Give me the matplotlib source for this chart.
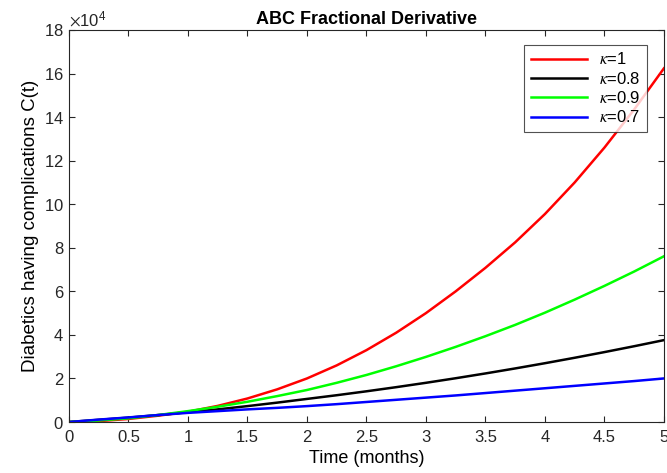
import matplotlib
matplotlib.use("Agg")
import matplotlib.pyplot as plt
from matplotlib.ticker import ScalarFormatter, FuncFormatter
import numpy as np

plt.rcParams["font.family"] = ["Liberation Sans", "DejaVu Sans"]
plt.rcParams["mathtext.fontset"] = "stix"

# time (months)
t = np.arange(0, 5.01, 0.25)

# complications C(t), in units of 1e4
c_k1 = [0, 0.04, 0.14, 0.29, 0.47, 0.74, 1.08, 1.50, 2.00, 2.60, 3.30,
        4.10, 5.00, 6.00, 7.08, 8.25, 9.55, 11.00, 12.60, 14.35, 16.24]
c_k08 = [0, 0.10, 0.20, 0.32, 0.45, 0.58, 0.73, 0.89, 1.06, 1.23, 1.41,
         1.60, 1.80, 2.01, 2.23, 2.46, 2.70, 2.95, 3.21, 3.48, 3.76]
c_k09 = [0, 0.07, 0.17, 0.32, 0.50, 0.70, 0.93, 1.19, 1.47, 1.80, 2.16,
         2.56, 2.99, 3.45, 3.94, 4.46, 5.02, 5.62, 6.25, 6.91, 7.61]
c_k07 = [0, 0.11, 0.21, 0.32, 0.42, 0.50, 0.58, 0.65, 0.73, 0.82, 0.92,
         1.02, 1.12, 1.22, 1.33, 1.44, 1.55, 1.66, 1.77, 1.88, 2.00]

series = [
    (c_k1, "#ff0000", r"$\kappa$=1"),
    (c_k08, "#000000", r"$\kappa$=0.8"),
    (c_k09, "#00ff00", r"$\kappa$=0.9"),
    (c_k07, "#0000ff", r"$\kappa$=0.7"),
]

fig = plt.figure(figsize=(6.67, 4.73), dpi=100)
ax = fig.add_axes([0.1034, 0.1078, 0.892, 0.8288])

for vals, color, label in series:
    ax.plot(t, np.array(vals) * 1e4, color=color, linewidth=1.8, label=label)

ax.set_xlim(0, 5)
ax.set_ylim(0, 18e4)
ax.set_xticks(np.arange(0, 5.01, 0.5))
ax.set_yticks(np.arange(0, 18.01, 2) * 1e4)
ax.xaxis.set_major_formatter(FuncFormatter(lambda v, p: f"{v:g}"))
fmt = ScalarFormatter(useMathText=True)
fmt.set_powerlimits((4, 4))
ax.yaxis.set_major_formatter(fmt)
ax.yaxis.get_offset_text().set_fontsize(12)

axis_color = "#262626"
for sp in ax.spines.values():
    sp.set_color(axis_color)
    sp.set_linewidth(0.8)
ax.tick_params(direction="in", top=True, right=True, labelsize=12,
               colors=axis_color, labelcolor="#262626", length=4)
ax.tick_params(axis="x", pad=6)

ax.set_title("ABC Fractional Derivative", fontsize=13, fontweight="bold", pad=4)
ax.set_xlabel("Time (months)", fontsize=13, labelpad=3)
ax.set_ylabel("Diabetics having complications C(t)", fontsize=13.5, labelpad=4)

leg = ax.legend(loc="upper right", bbox_to_anchor=(0.98, 0.975), fontsize=12,
                handlelength=3.4, frameon=True, fancybox=False,
                borderpad=0.4, labelspacing=0.2, handletextpad=0.7,
                borderaxespad=0.3)
leg.get_frame().set_edgecolor(axis_color)
leg.get_frame().set_linewidth(0.8)

fig.savefig("out.png", dpi=100)
